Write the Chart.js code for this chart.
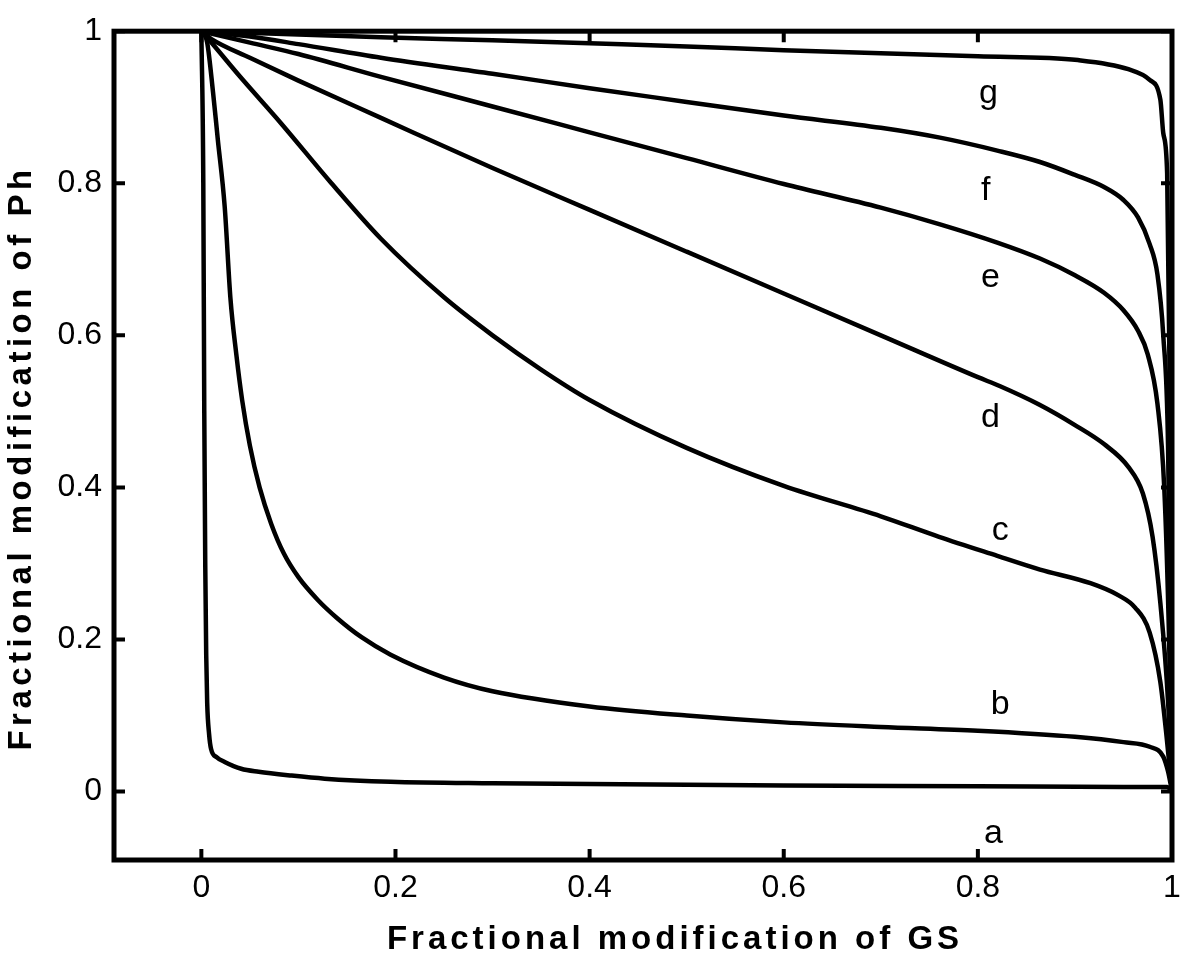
<!DOCTYPE html>
<html lang="en">

<head>
  <meta charset="UTF-8">
  <title>Fractional modification of Ph vs GS</title>
  <script src="https://cdn.jsdelivr.net/npm/chart.js"></script>
  <style>
    html, body { margin: 0; padding: 0; background: #fff; }
  </style>
</head>

<body>
  <canvas id="phChart" width="1200" height="959"></canvas>

  <script>
    // axis ticks
    const xTicks = [0, 0.2, 0.4, 0.6, 0.8, 1];
    const yTicks = [0, 0.2, 0.4, 0.6, 0.8, 1];
    const xTickLabels = ['0', '0.2', '0.4', '0.6', '0.8', '1'];
    const yTickLabels = ['0', '0.2', '0.4', '0.6', '0.8', '1'];

    // curves as [GS, Ph]
    const curveA = [[0, 1], [0.002, 0.8], [0.003, 0.5], [0.004, 0.3], [0.005, 0.18], [0.006, 0.117], [0.008, 0.075],
      [0.01, 0.056], [0.016, 0.045], [0.024, 0.039], [0.041, 0.03], [0.059, 0.026], [0.093, 0.021], [0.127, 0.017],
      [0.195, 0.013], [0.3, 0.011], [0.4, 0.01], [0.6, 0.008], [0.8, 0.007], [0.95, 0.006], [0.995, 0.006], [1, 0]];
    const curveB = [[0, 1], [0.006, 0.985], [0.012, 0.92], [0.017, 0.857], [0.024, 0.77], [0.03, 0.648], [0.036, 0.575],
      [0.042, 0.515], [0.05, 0.455], [0.06, 0.4], [0.072, 0.352], [0.085, 0.313], [0.1, 0.282], [0.12, 0.252],
      [0.14, 0.228], [0.165, 0.203], [0.195, 0.18], [0.25, 0.15], [0.3, 0.132], [0.4, 0.112], [0.5, 0.1],
      [0.6, 0.091], [0.7, 0.085], [0.8, 0.08], [0.9, 0.072], [0.95, 0.065], [0.977, 0.059], [0.991, 0.046],
      [0.996, 0.026], [1, 0]];
    const curveC = [[0, 1], [0.007, 0.99], [0.04, 0.94], [0.082, 0.879], [0.134, 0.8], [0.185, 0.727], [0.25, 0.65],
      [0.3, 0.6], [0.35, 0.555], [0.4, 0.515], [0.5, 0.452], [0.6, 0.402], [0.7, 0.362], [0.76, 0.335],
      [0.82, 0.31], [0.864, 0.292], [0.916, 0.274], [0.945, 0.258], [0.962, 0.242], [0.977, 0.209], [0.988, 0.144],
      [0.995, 0.065], [1, 0]];
    const curveD = [[0, 1], [0.01, 0.99], [0.05, 0.965], [0.1, 0.935], [0.185, 0.886], [0.3, 0.82], [0.4, 0.765],
      [0.5, 0.71], [0.6, 0.655], [0.7, 0.6], [0.8, 0.545], [0.823, 0.533], [0.863, 0.509], [0.9, 0.482],
      [0.93, 0.457], [0.955, 0.427], [0.97, 0.392], [0.98, 0.335], [0.988, 0.248], [0.996, 0.117], [1, 0]];
    const curveE = [[0, 1], [0.05, 0.985], [0.1, 0.97], [0.185, 0.94], [0.3, 0.901], [0.4, 0.867], [0.5, 0.833],
      [0.6, 0.799], [0.7, 0.768], [0.761, 0.746], [0.82, 0.722], [0.864, 0.701], [0.9, 0.679], [0.93, 0.656],
      [0.95, 0.633], [0.965, 0.606], [0.975, 0.575], [0.985, 0.51], [0.992, 0.4], [0.997, 0.2], [1, 0]];
    const curveF = [[0, 1], [0.05, 0.993], [0.1, 0.983], [0.185, 0.965], [0.3, 0.944], [0.4, 0.925], [0.5, 0.907],
      [0.6, 0.889], [0.7, 0.873], [0.761, 0.86], [0.82, 0.843], [0.864, 0.828], [0.9, 0.811], [0.93, 0.795],
      [0.95, 0.778], [0.965, 0.755], [0.977, 0.72], [0.985, 0.68], [0.991, 0.6], [0.996, 0.45], [1, 0]];
    const curveG = [[0, 1], [0.185, 0.992], [0.3, 0.988], [0.4, 0.984], [0.5, 0.98], [0.6, 0.975], [0.7, 0.971],
      [0.8, 0.967], [0.903, 0.962], [0.955, 0.95], [0.977, 0.936], [0.988, 0.91], [0.991, 0.866], [0.995, 0.813],
      [0.998, 0.5], [1, 0]];

    const curves = [curveA, curveB, curveC, curveD, curveE, curveF, curveG];

    // curve tags and where they sit, in data units
    const curveNames = ['a', 'b', 'c', 'd', 'e', 'f', 'g'];
    const nameX = [0.816, 0.823, 0.823, 0.813, 0.813, 0.808, 0.811];
    const nameY = [-0.055, 0.114, 0.343, 0.492, 0.676, 0.79, 0.918];

    const xTitle = 'Fractional modification of GS';
    const yTitle = 'Fractional modification of Ph';

    const FONT = '"Liberation Sans", Arial, Helvetica, sans-serif';

    // frame, inward ticks on all four sides, curve tags
    const framePlugin = {
      id: 'frame',
      afterDatasetsDraw(chart) {
        const { ctx, chartArea: a, scales: { x, y } } = chart;
        ctx.save();
        ctx.strokeStyle = '#000';
        ctx.lineWidth = 4;
        ctx.beginPath();
        xTicks.forEach(v => {
          const px = x.getPixelForValue(v);
          ctx.moveTo(px, a.bottom); ctx.lineTo(px, a.bottom - 11);
          ctx.moveTo(px, a.top); ctx.lineTo(px, a.top + 11);
        });
        yTicks.forEach(v => {
          const py = y.getPixelForValue(v);
          ctx.moveTo(a.left, py); ctx.lineTo(a.left + 11, py);
          ctx.moveTo(a.right, py); ctx.lineTo(a.right - 11, py);
        });
        ctx.stroke();
        ctx.lineWidth = 5;
        ctx.strokeRect(a.left, a.top, a.width, a.height);

        ctx.fillStyle = '#000';
        ctx.font = '34px ' + FONT;
        ctx.textAlign = 'center';
        ctx.textBaseline = 'middle';
        curveNames.forEach((n, i) => {
          ctx.fillText(n, x.getPixelForValue(nameX[i]), y.getPixelForValue(nameY[i]));
        });
        ctx.restore();
      },
      afterDraw(chart) {
        const ctx = chart.ctx;
        ctx.save();
        ctx.fillStyle = '#000';
        ctx.font = 'bold 33px ' + FONT;
        ctx.textAlign = 'center';
        ctx.textBaseline = 'middle';
        ctx.letterSpacing = '4px';
        ctx.fillText(xTitle, 675, 940);
        ctx.letterSpacing = '4.5px';
        ctx.translate(22, 458);
        ctx.rotate(-Math.PI / 2);
        ctx.fillText(yTitle, 0, 0);
        ctx.restore();
      }
    };

    const ctx = document.getElementById('phChart').getContext('2d');
    new Chart(ctx, {
      type: 'scatter',
      data: {
        datasets: curves.map((c, i) => ({
          label: curveNames[i],
          data: c.map(p => ({ x: p[0], y: p[1] })),
          showLine: true,
          borderColor: '#000',
          borderWidth: 4.5,
          pointRadius: 0,
          cubicInterpolationMode: 'monotone',
          fill: false
        }))
      },
      options: {
        responsive: false,
        animation: false,
        devicePixelRatio: 1,
        layout: { padding: { top: 24, right: 28, left: 0, bottom: 0 } },
        plugins: {
          legend: { display: false },
          tooltip: { enabled: false }
        },
        scales: {
          x: {
            type: 'linear',
            min: -0.09,
            max: 1,
            afterBuildTicks: s => { s.ticks = xTicks.map(v => ({ value: v })); },
            afterFit: s => { s.height = 99; },
            grid: { display: false, drawTicks: false },
            border: { display: false },
            ticks: {
              autoSkip: false,
              maxRotation: 0,
              padding: 9,
              color: '#000',
              font: { family: FONT, size: 32 },
              callback: (v, i) => xTickLabels[i]
            }
          },
          y: {
            type: 'linear',
            min: -0.09,
            max: 1,
            afterBuildTicks: s => { s.ticks = yTicks.map(v => ({ value: v })); },
            afterFit: s => { s.width = 114; },
            grid: { display: false, drawTicks: false },
            border: { display: false },
            ticks: {
              autoSkip: false,
              padding: 12,
              color: '#000',
              font: { family: FONT, size: 32 },
              callback: (v, i) => yTickLabels[i]
            }
          }
        }
      },
      plugins: [framePlugin]
    });
  </script>
</body>

</html>
